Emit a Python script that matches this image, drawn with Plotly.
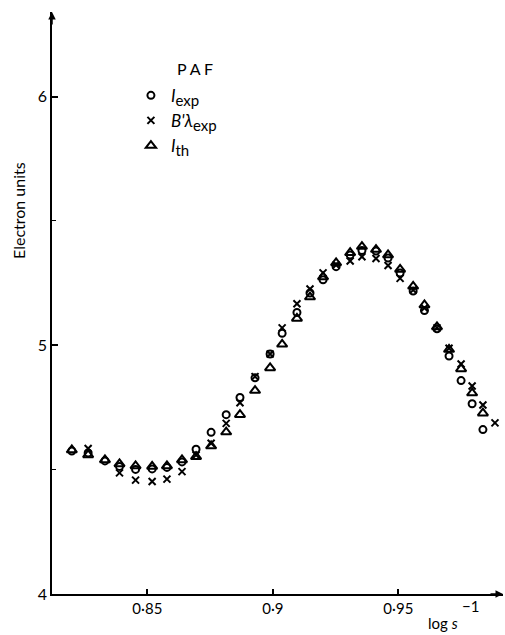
import plotly.graph_objects as go

# log s positions (shared abscissae)
log_s = [0.8199, 0.8264, 0.8331, 0.8389, 0.8453, 0.8519, 0.8578, 0.8638, 0.8694, 0.8754,
         0.8814, 0.8869, 0.8929, 0.8989, 0.9037, 0.9096, 0.9148, 0.9200, 0.9252, 0.9308,
         0.9355, 0.9411, 0.9459, 0.9507, 0.9559, 0.9604, 0.9654, 0.9702, 0.9750, 0.9794,
         0.9837]

I_exp = [4.575, 4.567, 4.535, 4.513, 4.501, 4.503, 4.509, 4.531, 4.582, 4.650,
         4.721, 4.790, 4.869, 4.965, 5.048, 5.132, 5.210, 5.263, 5.316, 5.363,
         5.381, 5.379, 5.351, 5.291, 5.218, 5.140, 5.066, 4.957, 4.858, 4.765,
         4.661]

I_th = [4.579, 4.559, 4.539, 4.523, 4.515, 4.513, 4.515, 4.539, 4.552, 4.595,
        4.651, 4.721, 4.818, 4.909, 5.004, 5.108, 5.194, 5.275, 5.331, 5.372,
        5.397, 5.385, 5.363, 5.305, 5.237, 5.162, 5.074, 4.983, 4.905, 4.808,
        4.727]

log_s_B = [0.8264, 0.8389, 0.8453, 0.8519, 0.8578, 0.8638, 0.8694, 0.8754, 0.8814, 0.8869,
           0.8929, 0.8989, 0.9037, 0.9096, 0.9148, 0.9200, 0.9252, 0.9308, 0.9355, 0.9411,
           0.9459, 0.9507, 0.9559, 0.9604, 0.9654, 0.9702, 0.9750, 0.9794, 0.9837, 0.9885]
B_lambda_exp = [4.585, 4.487, 4.458, 4.452, 4.462, 4.492, 4.559, 4.606, 4.686, 4.769,
                4.874, 4.965, 5.070, 5.167, 5.226, 5.291, 5.323, 5.339, 5.356, 5.349,
                5.321, 5.269, 5.222, 5.150, 5.070, 4.988, 4.925, 4.836, 4.760, 4.688]

x_tickvals = [0.85, 0.9, 0.95]
x_ticktext = ["0·85", "0·9", "0·95"]
y_tickvals = [4, 5, 6]
y_ticktext = ["4", "5", "6"]

FONT = "Lato"
SUB = '<sub><span style="font-size:15px">{}</span></sub>'

fig = go.Figure()
fig.add_trace(go.Scatter(x=log_s, y=I_exp, mode="markers",
                         name="<i>I</i>" + SUB.format("exp"),
                         legendgroup="a",
                         marker=dict(symbol="circle-open", size=7, color="black",
                                     line=dict(width=2, color="black"))))
fig.add_trace(go.Scatter(x=log_s_B, y=B_lambda_exp, mode="markers",
                         name="<i>B'λ</i>" + SUB.format("exp"), legendgroup="b",
                         marker=dict(symbol="x-thin-open", size=7, color="black",
                                     line=dict(width=2, color="black"))))
fig.add_trace(go.Scatter(x=log_s, y=I_th, mode="markers",
                         name="<i>I</i>" + SUB.format("th"),
                         legendgroup="c",
                         marker=dict(symbol="triangle-up-open", size=9, color="black",
                                     line=dict(width=2, color="black"))))

fig.update_layout(
    width=505, height=635,
    margin=dict(l=52, r=2, t=12, b=41),
    paper_bgcolor="white", plot_bgcolor="white",
    font=dict(family=FONT, size=15, color="black"),
    showlegend=True,
    legend=dict(x=0.175, y=0.887, xanchor="left", yanchor="top",
                bgcolor="rgba(0,0,0,0)", font=dict(size=17, family=FONT, color="black"),
                tracegroupgap=0, itemwidth=30),
    xaxis=dict(range=[0.8120, 0.9917], showgrid=False, zeroline=False,
               showline=True, linecolor="black", linewidth=1.5,
               tickvals=x_tickvals, ticktext=x_ticktext,
               ticks="inside", ticklen=5, tickwidth=1.5, tickcolor="black",
               tickfont=dict(size=15, family=FONT, color="black")),
    yaxis=dict(range=[4, 6.34], showgrid=False, zeroline=False,
               showline=True, linecolor="black", linewidth=1.5,
               tickvals=y_tickvals, ticktext=y_ticktext,
               ticks="inside", ticklen=6, tickwidth=1.5, tickcolor="black",
               minor=dict(dtick=0.5, tick0=4, ticks="inside", ticklen=4,
                          tickwidth=1, tickcolor="black"),
               tickfont=dict(size=16, family=FONT, color="black")),
)

annotations = [
    dict(text="P A F", xref="paper", yref="paper", x=(175 - 52) / 451, y=1 - (57 - 12) / 582,
         showarrow=False, font=dict(size=16, family=FONT, color="black")),
    dict(text="Electron units", xref="paper", yref="paper", x=-(52 - 18) / 451,
         y=1 - (211 - 12) / 582, xanchor="center", yanchor="middle",
         textangle=-90, showarrow=False,
         font=dict(size=16, family=FONT, color="black")),
    dict(text="log <i>s</i>", xref="paper", yref="paper", x=(443 - 52) / 451,
         y=-(623 - 594) / 582, xanchor="center", yanchor="middle", showarrow=False,
         font=dict(size=15, family=FONT, color="black")),
    dict(text="−1", xref="x", yref="paper", x=0.9786, y=-(606 - 594) / 582,
         xanchor="center", yanchor="middle",
         showarrow=False, font=dict(size=15, family=FONT, color="black")),
    # axis arrowheads
    dict(xref="paper", yref="paper", x=0, y=1, ax=0, ay=14, text="", showarrow=True,
         arrowhead=2, arrowsize=1, arrowwidth=1.5, arrowcolor="black"),
    dict(xref="paper", yref="paper", x=1, y=0, ax=-14, ay=0, text="", showarrow=True,
         arrowhead=2, arrowsize=1, arrowwidth=1.5, arrowcolor="black"),
]
fig.update_layout(annotations=annotations)

fig.write_html("out.html")
